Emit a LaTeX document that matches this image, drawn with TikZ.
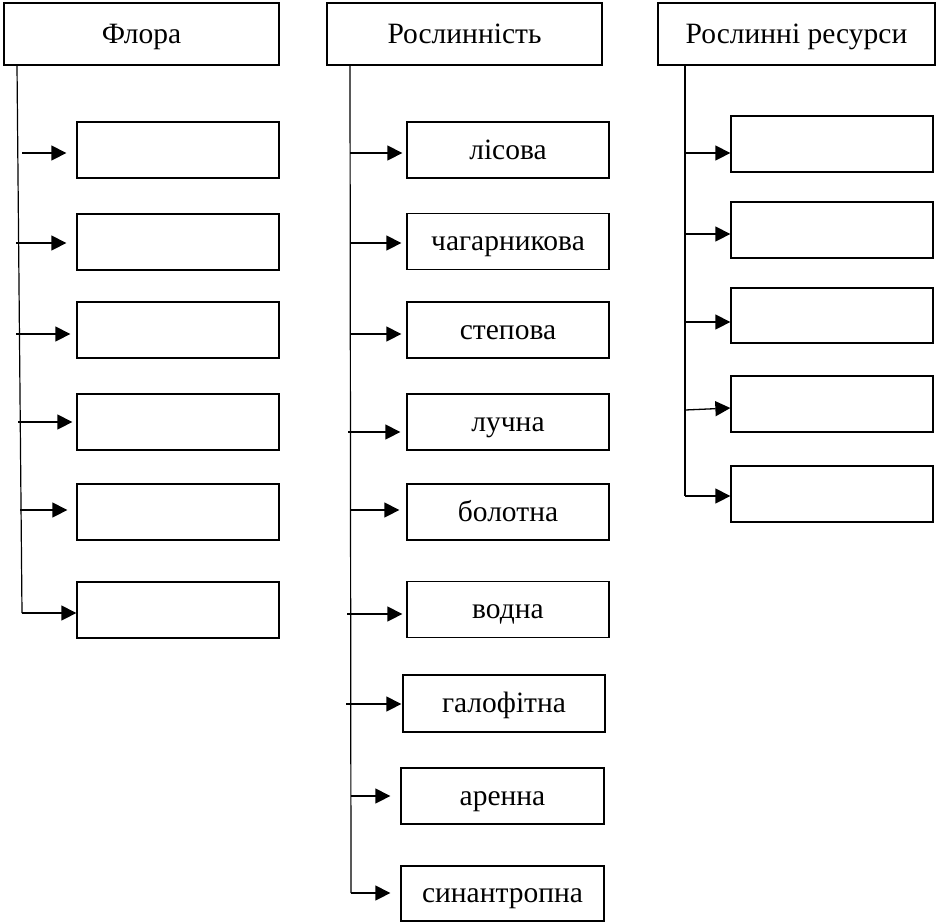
\documentclass[tikz,border=0pt]{standalone}
\usepackage{fontspec}
\setmainfont{Liberation Serif}
\usetikzlibrary{arrows.meta}
\begin{document}
\begin{tikzpicture}[x=1pt,y=-1pt,
  cell/.style={draw, line width=1.3pt, rectangle, inner sep=0pt, anchor=center,
    text height=24pt, text depth=6pt,
    font=\fontsize{29.5}{35}\selectfont},
  hdr/.style={cell, minimum width=275pt, minimum height=62pt},
  item/.style={cell, minimum width=202pt, minimum height=56pt},
  trunk/.style={line width=1.2pt},
  arr/.style={line width=1.3pt, -{Triangle[length=15pt,width=15pt]}}]
\useasboundingbox (0,0) rectangle (936,922);
% headers
\node[hdr] (h1) at (141.5,34) {Флора};
\node[hdr] (h2) at (464.5,34) {Рослинність};
\node[hdr, minimum width=277pt] (h3) at (796.5,34) {Рослинні ресурси};
% column 1
\node[item] (f1) at (178,150) {};
\node[item] (f2) at (178,242) {};
\node[item] (f3) at (178,330) {};
\node[item] (f4) at (178,422) {};
\node[item] (f5) at (178,512) {};
\node[item] (f6) at (178,610) {};
\coordinate (t1a) at (17,65);
\coordinate (t1b) at (22,613);
\coordinate (a1) at (22,153);
\coordinate (a2) at (16,243);
\coordinate (a3) at (16,334);
\coordinate (a4) at (18,422);
\coordinate (a5) at (20,510);
\draw[trunk] (t1a) -- (t1b);
\draw[arr, shorten >=10pt] (a1) -- (a1 -| f1.west);
\draw[arr, shorten >=10pt] (a2) -- (a2 -| f2.west);
\draw[arr, shorten >=6pt] (a3) -- (a3 -| f3.west);
\draw[arr, shorten >=4pt] (a4) -- (a4 -| f4.west);
\draw[arr, shorten >=9pt] (a5) -- (a5 -| f5.west);
\draw[arr] (t1b) -- (t1b -| f6.west);
% column 2
\node[item] (r1) at (508,150) {лісова};
\node[item] (r2) at (508,241.5) {чагарникова};
\node[item] (r3) at (508,330) {степова};
\node[item] (r4) at (508,422) {лучна};
\node[item] (r5) at (508,512) {болотна};
\node[item] (r6) at (508,609.5) {водна};
\node[item, minimum height=57pt] (r7) at (504,703.5) {галофітна};
\node[item, minimum width=203pt] (r8) at (502.5,796) {аренна};
\node[item, minimum width=203pt, minimum height=55pt] (r9) at (502.5,893.5) {синантропна};
\coordinate (t2a) at (350,65);
\coordinate (t2b) at (351,893);
\coordinate (b1) at (350,153);
\coordinate (b2) at (350,243);
\coordinate (b3) at (350,334);
\coordinate (b4) at (348,432);
\coordinate (b5) at (350,510);
\coordinate (b6) at (347,614);
\coordinate (b7) at (346,704);
\coordinate (b8) at (351,796);
\draw[trunk] (t2a) -- (t2b);
\draw[arr, shorten >=4pt] (b1) -- (b1 -| r1.west);
\draw[arr, shorten >=5pt] (b2) -- (b2 -| r2.west);
\draw[arr, shorten >=5pt] (b3) -- (b3 -| r3.west);
\draw[arr, shorten >=6pt] (b4) -- (b4 -| r4.west);
\draw[arr, shorten >=7pt] (b5) -- (b5 -| r5.west);
\draw[arr, shorten >=4pt] (b6) -- (b6 -| r6.west);
\draw[arr, shorten >=1pt] (b7) -- (b7 -| r7.west);
\draw[arr, shorten >=10pt] (b8) -- (b8 -| r8.west);
\draw[arr, shorten >=10pt] (t2b) -- (t2b -| r9.west);
% column 3
\node[item] (s1) at (832,144) {};
\node[item] (s2) at (832,230) {};
\node[item, minimum height=55pt] (s3) at (832,315.5) {};
\node[item] (s4) at (832,404) {};
\node[item] (s5) at (832,494) {};
\coordinate (t3a) at (685,65);
\coordinate (t3b) at (685,496);
\coordinate (c1) at (685,153);
\coordinate (c2) at (685,234);
\coordinate (c3) at (685,322);
\coordinate (c4) at (685,410);
\draw[trunk] (t3a) -- (t3b);
\draw[arr] (c1) -- (c1 -| s1.west);
\draw[arr] (c2) -- (c2 -| s2.west);
\draw[arr] (c3) -- (c3 -| s3.west);
\draw[arr] (c4) -- ([yshift=2pt]c4 -| s4.west);
\draw[arr] (t3b) -- (t3b -| s5.west);
\end{tikzpicture}
\end{document}
